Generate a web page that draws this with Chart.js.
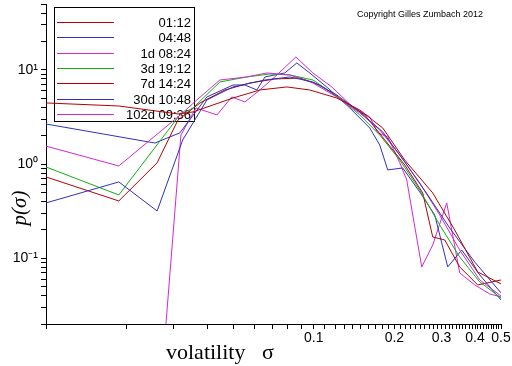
<!DOCTYPE html>
<html>
<head>
<meta charset="utf-8">
<script src="https://cdn.jsdelivr.net/npm/chart.js@4"></script>
<style>
  html, body { margin: 0; padding: 0; background: #fff; }
  canvas { display: block; }
</style>
</head>
<body>
<canvas id="c" width="512" height="366"></canvas>
<script>
// series labels / colours
const seriesLabels = ['01:12', '04:48', '1d 08:24', '3d 19:12', '7d 14:24', '30d 10:48', '102d 09:36'];
const seriesColors = ['#b40000', '#3030c0', '#d428d4', '#10b010', '#b40000', '#3030c0', '#d428d4'];

// volatility sigma (x) and density p(sigma) (y)
const sig1 = [0.0100, 0.0187, 0.0311, 0.0354, 0.0499, 0.0629, 0.0793, 0.0966, 0.1218, 0.1484, 0.1809, 0.2186, 0.2780, 0.3359, 0.4092, 0.5];
const p1   = [4.45, 4.13, 3.40, 3.57, 5.02, 6.11, 6.58, 6.11, 5.02, 3.75, 2.41, 1.10, 0.493, 0.199, 0.0715, 0.0533];

const sig2 = [0.0100, 0.0187, 0.0260, 0.0324, 0.0399, 0.0499, 0.0657, 0.0814, 0.0992, 0.1218, 0.1484, 0.1809, 0.2186, 0.2663, 0.3217, 0.3988, 0.5];
const p2   = [0.386, 0.645, 0.317, 1.80, 4.79, 6.58, 7.80, 8.40, 7.43, 5.41, 3.57, 2.19, 1.05, 0.469, 0.209, 0.0912, 0.0428];

const sig3 = [0.0100, 0.0187, 0.0311, 0.0366, 0.0446, 0.0562, 0.0668, 0.0814, 0.0992, 0.1218, 0.1484, 0.1763, 0.2094, 0.2486, 0.2952, 0.3506, 0.4164, 0.5];
const p3   = [1.55, 0.953, 3.16, 4.79, 7.80, 8.40, 9.26, 8.82, 7.25, 5.15, 3.48, 2.30, 1.25, 0.629, 0.288, 0.122, 0.0587, 0.0397];

const sig4 = [0.0100, 0.0187, 0.0316, 0.0354, 0.0446, 0.0562, 0.0685, 0.0814, 0.0992, 0.1218, 0.1484, 0.1763, 0.2094, 0.2486, 0.2952, 0.3506, 0.4164, 0.5];
const p4   = [0.930, 0.469, 3.32, 3.94, 7.43, 8.40, 9.03, 8.82, 7.80, 5.28, 3.32, 2.03, 1.10, 0.530, 0.225, 0.103, 0.0559, 0.0378];

const sig5 = [0.0100, 0.0187, 0.0260, 0.0311, 0.0376, 0.0466, 0.0577, 0.0715, 0.0887, 0.1053, 0.1306, 0.1550, 0.1841, 0.2186, 0.2551, 0.2780, 0.3083, 0.3506, 0.4092, 0.5];
const p5   = [0.729, 0.405, 1.03, 2.93, 4.45, 6.11, 7.25, 7.99, 8.19, 6.90, 4.56, 3.32, 1.80, 0.977, 0.493, 0.168, 0.156, 0.0807, 0.0520, 0.0587];

const sig6 = [0.0100, 0.0255, 0.0316, 0.0399, 0.0499, 0.0553, 0.0613, 0.0657, 0.0779, 0.0864, 0.0966, 0.1128, 0.1362, 0.1618, 0.1763, 0.1888, 0.2148, 0.2486, 0.2829, 0.3162, 0.3567, 0.4164, 0.5];
const p6   = [2.66, 1.67, 2.14, 5.15, 6.90, 6.90, 6.11, 8.40, 9.26, 11.82, 9.26, 6.42, 3.94, 2.41, 1.59, 0.865, 0.908, 0.505, 0.288, 0.0807, 0.122, 0.0664, 0.0360];

const sig7 = [0.0266, 0.0319, 0.0363, 0.0435, 0.0494, 0.0553, 0.0629, 0.0715, 0.0857, 0.0992, 0.1167, 0.1398, 0.1618, 0.1733, 0.1888, 0.2094, 0.2223, 0.2529, 0.2780, 0.3136, 0.3506, 0.3988, 0.4537, 0.5];
const p7   = [0.003, 2.03, 3.94, 3.32, 5.15, 4.56, 6.11, 8.40, 13.69, 9.26, 6.58, 4.03, 3.16, 2.14, 1.94, 1.03, 0.677, 0.0807, 0.138, 0.386, 0.0697, 0.0520, 0.0417, 0.0388];

const sigmas = [sig1, sig2, sig3, sig4, sig5, sig6, sig7];
const densities = [p1, p2, p3, p4, p5, p6, p7];

// axis ranges and labelled ticks
const xMin = 0.01, xMax = 0.5;
const yMin = 0.02, yMax = 50;
const xLabelled = [0.1, 0.2, 0.3, 0.4, 0.5];
const xTickLabels = ['0.1', '0.2', '0.3', '0.4', '0.5'];
const yLabelled = [0.1, 1, 10];
const yTickLabels = ['10\u207B\u00B9', '10\u2070', '10\u00B9'];

// minor tick positions (every unit step of each decade)
const xTicks = [];
for (let k = 1; k <= 9; k++) xTicks.push(k / 100);
for (let k = 10; k <= 50; k++) xTicks.push(k / 100);
const yTicks = [];
for (let e = -2; e <= 1; e++) {
  for (let k = 1; k <= 9; k++) {
    const v = k * Math.pow(10, e);
    if (v >= yMin - 1e-9 && v <= yMax + 1e-9) yTicks.push(v);
  }
}

const near = (a, b) => Math.abs(a - b) < 1e-9 * Math.max(1, Math.abs(b));

Chart.defaults.font.family = '"Liberation Sans", Arial, sans-serif';
Chart.defaults.color = '#000';

const datasets = seriesLabels.map((label, i) => ({
  label,
  data: sigmas[i].map((x, j) => ({ x, y: densities[i][j] })),
  borderColor: seriesColors[i],
  backgroundColor: seriesColors[i],
  borderWidth: 1,
  pointRadius: 0,
  showLine: true,
  tension: 0
}));

// legend box, copyright and axis titles
const decorations = {
  id: 'decorations',
  beforeDatasetsDraw(chart) {
    const ctx = chart.ctx;
    ctx.save();
    ctx.strokeStyle = '#000';
    ctx.lineWidth = 1;
    ctx.strokeRect(54.5, 7.5, 140, 114);
    ctx.font = '13px "Liberation Sans", Arial, sans-serif';
    ctx.textAlign = 'right';
    ctx.textBaseline = 'middle';
    chart.data.datasets.forEach((ds, i) => {
      const y = Math.round(22 + i * 15.3) + 0.5;
      ctx.strokeStyle = ds.borderColor;
      ctx.beginPath();
      ctx.moveTo(57, y);
      ctx.lineTo(114, y);
      ctx.stroke();
      ctx.fillStyle = '#000';
      ctx.fillText(ds.label, 191, y + 1);
    });
    ctx.restore();
  },
  afterDraw(chart) {
    const ctx = chart.ctx;
    ctx.save();
    ctx.fillStyle = '#000';
    ctx.font = '9px "Liberation Sans", Arial, sans-serif';
    ctx.textAlign = 'center';
    ctx.textBaseline = 'middle';
    ctx.fillText('Copyright Gilles Zumbach 2012', 420, 15);

    ctx.font = '22px "Liberation Serif", "Times New Roman", serif';
    ctx.textAlign = 'left';
    ctx.textBaseline = 'alphabetic';
    ctx.fillText('volatility', 166, 359);
    ctx.fillText('\u03C3', 262, 359);

    ctx.translate(26, 208);
    ctx.rotate(-Math.PI / 2);
    ctx.textAlign = 'center';
    ctx.font = 'italic 21px "Liberation Serif", "Times New Roman", serif';
    ctx.fillText('p(\u03C3)', 0, 0);
    ctx.restore();
  }
};

new Chart(document.getElementById('c'), {
  type: 'scatter',
  data: { datasets },
  options: {
    responsive: false,
    animation: false,
    layout: { padding: { top: 4, right: 11, left: 0, bottom: 0 } },
    plugins: {
      legend: { display: false },
      tooltip: { enabled: false }
    },
    scales: {
      x: {
        type: 'logarithmic',
        position: 'bottom',
        min: xMin,
        max: xMax,
        border: { display: true, color: '#000', width: 1 },
        grid: { drawOnChartArea: false, color: '#000', tickLength: 5 },
        ticks: {
          autoSkip: false,
          maxRotation: 0,
          padding: 1,
          font: { size: 14 },
          callback: (v) => {
            const i = xLabelled.findIndex(t => near(v, t));
            return i >= 0 ? xTickLabels[i] : '';
          }
        },
        afterBuildTicks: s => { s.ticks = xTicks.map(v => ({ value: v })); },
        afterFit: s => { s.height = 42; s.paddingLeft = 0; s.paddingRight = 0; }
      },
      y: {
        type: 'logarithmic',
        position: 'left',
        min: yMin,
        max: yMax,
        border: { display: true, color: '#000', width: 1 },
        grid: { drawOnChartArea: false, color: '#000', tickLength: 5 },
        ticks: {
          autoSkip: false,
          padding: 3,
          font: { size: 14 },
          callback: (v) => {
            const i = yLabelled.findIndex(t => near(v, t));
            return i >= 0 ? yTickLabels[i] : '';
          }
        },
        afterBuildTicks: s => { s.ticks = yTicks.map(v => ({ value: v })); },
        afterFit: s => { s.width = 46; s.paddingTop = 0; s.paddingBottom = 0; }
      }
    }
  },
  plugins: [decorations]
});
</script>
</body>
</html>
